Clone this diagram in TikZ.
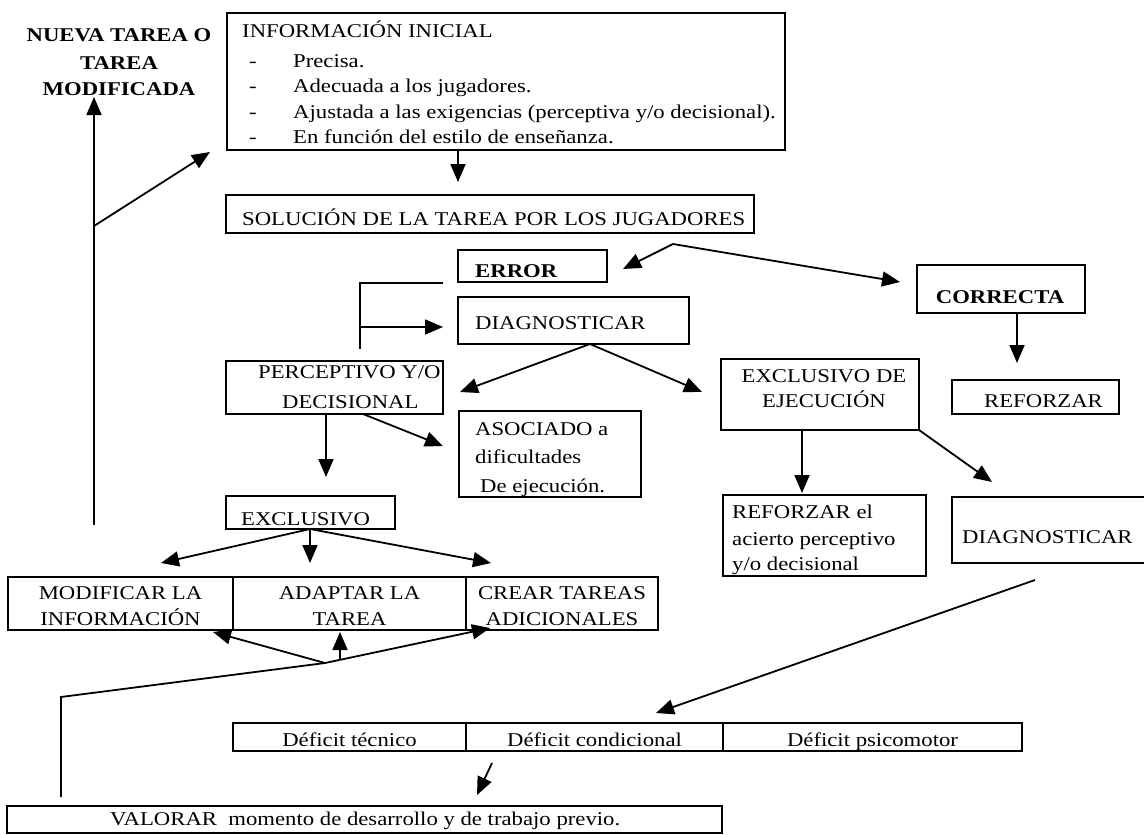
\documentclass[tikz,border=0pt]{standalone}
\usepackage{fontspec}
\setmainfont{Liberation Serif}[FakeStretch=1.165]
\usetikzlibrary{arrows.meta}
\newcommand\myfs{\fontsize{19.5}{23}\selectfont}
\begin{document}
\begin{tikzpicture}[x=1pt,y=-1pt,
  box/.style={draw, line width=1.7pt, inner sep=0pt},
  txt/.style={inner sep=0pt, anchor=base west, font=\myfs},
  ctxt/.style={inner sep=0pt, anchor=base, font=\myfs},
  btxt/.style={inner sep=0pt, anchor=base, font=\myfs\bfseries},
  arr/.style={line width=1.8pt, -{Triangle[length=18pt,width=15pt]}},
  ln/.style={line width=1.8pt}]
\useasboundingbox (0,0) rectangle (1144,835);
\fill[white] (0,0) rectangle (1144,835);

% ---------- boxes ----------
\node[box, minimum width=558pt, minimum height=137pt] (info) at (506,81.5) {};
\node[box, minimum width=528pt, minimum height=38pt] (sol) at (490,214) {};
\node[box, minimum width=149pt, minimum height=32pt] (err) at (532.5,266) {};
\node[box, minimum width=231pt, minimum height=47pt] (diag1) at (573.5,320.5) {};
\node[box, minimum width=168pt, minimum height=48pt] (corr) at (1001,289) {};
\node[box, minimum width=167pt, minimum height=34pt] (refz) at (1035.5,397) {};
\node[box, minimum width=198pt, minimum height=71pt] (excej) at (820,394.5) {};
\node[box, minimum width=217pt, minimum height=53pt] (perc) at (334.5,387.5) {};
\node[box, minimum width=182pt, minimum height=86pt] (asoc) at (550,454) {};
\node[box, minimum width=169pt, minimum height=33pt] (excl) at (310.5,512.5) {};
\node[box, minimum width=225pt, minimum height=53pt] (mod) at (120.5,603.5) {};
\node[box, minimum width=233pt, minimum height=53pt] (adap) at (349.5,603.5) {};
\node[box, minimum width=192pt, minimum height=53pt] (crea) at (562,603.5) {};
\node[box, minimum width=203pt, minimum height=81pt] (refel) at (824.5,535.5) {};
\node[box, minimum width=200pt, minimum height=66pt] (diag2) at (1052,530) {};
\node[box, minimum width=233pt, minimum height=28pt] (def1) at (349.5,737) {};
\node[box, minimum width=257pt, minimum height=28pt] (def2) at (594.5,737) {};
\node[box, minimum width=299pt, minimum height=28pt] (def3) at (872.5,737) {};
\node[box, minimum width=715pt, minimum height=27pt] (valo) at (364.5,819.5) {};

% ---------- texts ----------
\node[btxt] (n1) at (119,41) {NUEVA TAREA O};
\node[btxt] (n2) at (119,69) {TAREA};
\node[btxt] (n3) at (119,95) {MODIFICADA};

\node[txt] (tinfo) at (242,37) {INFORMACIÓN INICIAL};
\node[txt] (h1) at (249,67) {-};
\node[txt] (h2) at (249,92) {-};
\node[txt] (h3) at (249,118) {-};
\node[txt] (h4) at (249,143) {-};
\node[txt] (i1) at (293,67) {Precisa.};
\node[txt] (i2) at (293,92) {Adecuada a los jugadores.};
\node[txt] (i3) at (293,118) {Ajustada a las exigencias (perceptiva y/o decisional).};
\node[txt] (i4) at (293,143) {En función del estilo de enseñanza.};

\node[txt] (tsol) at (242,225) {SOLUCIÓN DE LA TAREA POR LOS JUGADORES};
\node[txt, font=\myfs\bfseries] (terr) at (475,277) {ERROR};
\node[txt] (tdiag1) at (475,329) {DIAGNOSTICAR};
\node[btxt] (tcorr) at (1000,303) {CORRECTA};
\node[txt] (trefz) at (984,407) {REFORZAR};
\node[ctxt] (te1) at (824,382) {EXCLUSIVO DE};
\node[ctxt] (te2) at (824,407) {EJECUCIÓN};
\node[txt] (tp1) at (258,378) {PERCEPTIVO Y/O};
\node[txt] (tp2) at (282,408) {DECISIONAL};
\node[txt] (ta1) at (475,435) {ASOCIADO a};
\node[txt] (ta2) at (475,463) {dificultades};
\node[txt] (ta3) at (480,492) {De ejecución.};
\node[txt] (texcl) at (241,525) {EXCLUSIVO};
\node[ctxt] (tm1) at (120.5,599) {MODIFICAR LA};
\node[ctxt] (tm2) at (120.5,625) {INFORMACIÓN};
\node[ctxt] (tad1) at (349.5,599) {ADAPTAR LA};
\node[ctxt] (tad2) at (349.5,625) {TAREA};
\node[ctxt] (tc1) at (562,599) {CREAR TAREAS};
\node[ctxt] (tc2) at (562,625) {ADICIONALES};
\node[txt] (tr1) at (732,518) {REFORZAR el};
\node[txt] (tr2) at (732,545) {acierto perceptivo};
\node[txt] (tr3) at (732,570) {y/o decisional};
\node[txt] (tdiag2) at (962,543) {DIAGNOSTICAR};
\node[ctxt] (td1) at (349.5,746) {Déficit técnico};
\node[ctxt] (td2) at (594.5,746) {Déficit condicional};
\node[ctxt] (td3) at (872.5,746) {Déficit psicomotor};
\node[txt] (tval) at (110,825) {VALORAR\ \ momento de desarrollo y de trabajo previo.};

% ---------- connector points ----------
\coordinate (vbot) at (94,525);
\coordinate (vtip) at (94,97);
\coordinate (vj) at (94,226);
\coordinate (infotip) at (210,152);
\coordinate (s1) at (458,150);
\coordinate (s1t) at (458,182);
\coordinate (sj) at (673,244);
\coordinate (errtip) at (623,269);
\coordinate (corrtip) at (900,282);
\coordinate (br1) at (443,283);
\coordinate (br2) at (360,283);
\coordinate (br3) at (360,349);
\coordinate (br4) at (360,327);
\coordinate (br5) at (443,327);
\coordinate (dj) at (590,344);
\coordinate (perctip) at (460,392);
\coordinate (excejtip) at (702,392);
\coordinate (c1) at (1017,313);
\coordinate (c1t) at (1017,363);
\coordinate (e1) at (802,430);
\coordinate (e1t) at (802,493);
\coordinate (e2) at (919,430);
\coordinate (e2t) at (992,482);
\coordinate (p1) at (326,414);
\coordinate (p1t) at (326,477);
\coordinate (p2) at (363,414);
\coordinate (p2t) at (443,446);
\coordinate (x0) at (310,529);
\coordinate (xl) at (161,563);
\coordinate (xm) at (310,563);
\coordinate (xr) at (491,563);
\coordinate (l1) at (61,797);
\coordinate (l2) at (61,697);
\coordinate (lj) at (325,663);
\coordinate (lmt) at (213,632);
\coordinate (lrt) at (490,628);
\coordinate (lu) at (340,660);
\coordinate (lut) at (340,632);
\coordinate (g1) at (1035,580);
\coordinate (g1t) at (656,713);
\coordinate (h1s) at (492,763);
\coordinate (h1t) at (477,795);

% ---------- connectors ----------
\draw[arr] (vbot) -- (vtip);
\draw[arr] (vj) -- (infotip);
\draw[arr] (s1) -- (s1t);
\draw[arr] (sj) -- (errtip);
\draw[arr] (sj) -- (corrtip);
\draw[ln] (br1) -- (br2) -- (br3);
\draw[arr] (br4) -- (br5);
\draw[arr] (dj) -- (perctip);
\draw[arr] (dj) -- (excejtip);
\draw[arr] (c1) -- (c1t);
\draw[arr] (e1) -- (e1t);
\draw[arr] (e2) -- (e2t);
\draw[arr] (p1) -- (p1t);
\draw[arr] (p2) -- (p2t);
\draw[arr] (x0) -- (xl);
\draw[arr] (x0) -- (xm);
\draw[arr] (x0) -- (xr);
\draw[ln] (l1) -- (l2) -- (lj);
\draw[arr] (lj) -- (lmt);
\draw[arr] (lj) -- (lrt);
\draw[arr] (lu) -- (lut);
\draw[arr] (g1) -- (g1t);
\draw[arr] (h1s) -- (h1t);
\end{tikzpicture}
\end{document}
